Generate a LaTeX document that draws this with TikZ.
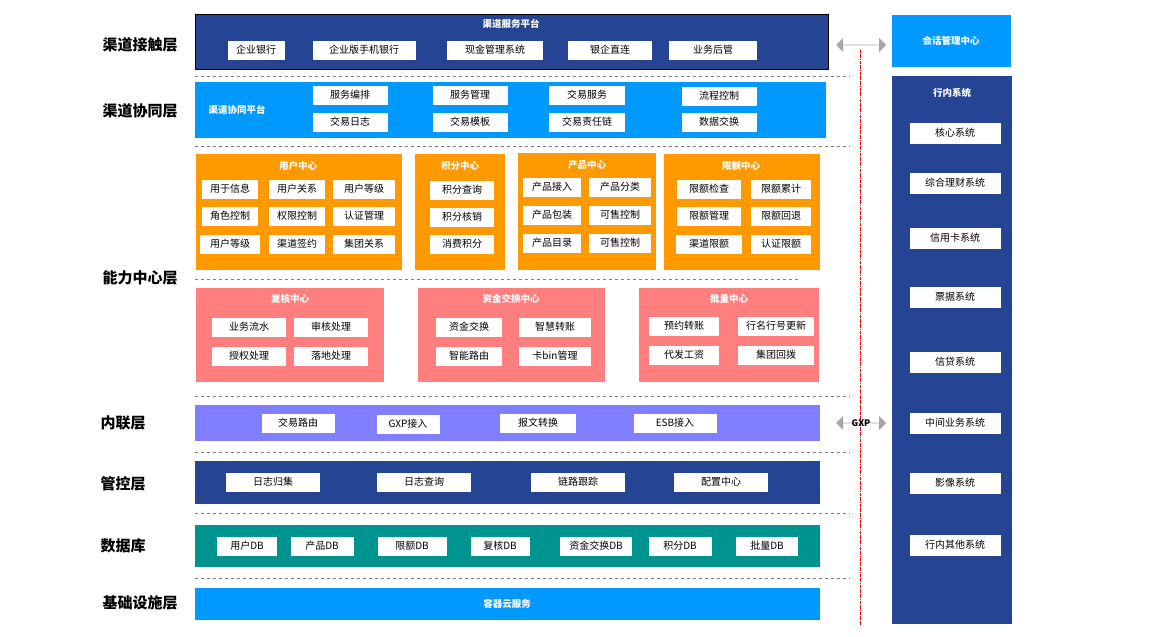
\documentclass[tikz,border=0pt]{standalone}
\usepackage{fontspec}
\setmainfont{Noto Sans CJK SC}
\usetikzlibrary{shapes.arrows}
\definecolor{dblue}{HTML}{264494}
\definecolor{lblue}{HTML}{0099FF}
\definecolor{orng}{HTML}{FF9900}
\definecolor{pink}{HTML}{FF7F7F}
\definecolor{viol}{HTML}{7F7FFF}
\definecolor{teal2}{HTML}{009490}
\tikzset{
 wb/.style={fill=white,draw=none,inner sep=0,minimum height=19pt,font=\fontsize{10}{11}\selectfont},
 ttl/.style={text=white,font=\fontsize{9.5}{10}\selectfont\bfseries,inner sep=0},
 lay/.style={font=\fontsize{15}{16}\selectfont\bfseries,inner sep=0},
 sep/.style={draw=gray,dashed,line width=0.8pt},
 dbl/.style={double arrow,fill=gray!70,draw=none,minimum height=50pt,minimum width=14pt,double arrow head extend=5pt,inner sep=0pt}
}
\newcommand\bx[4]{\node[wb,minimum width=#3pt] (#1) at (#2) {#4};}
\begin{document}
\begin{tikzpicture}[x=1pt,y=-1pt]
\useasboundingbox (0,0) rectangle (1159,637);
% layer labels
\node[lay] (L1) at (140,45) {渠道接触层};
\node[lay] (L2) at (140,111) {渠道协同层};
\node[lay] (L3) at (140,278) {能力中心层};
\node[lay] (L4) at (123,423) {内联层};
\node[lay] (L5) at (123,484) {管控层};
\node[lay] (L6) at (123,546) {数据库};
\node[lay] (L7) at (140,603) {基础设施层};
% separators
\foreach \y/\a/\b in {76/195/850,146/195/850,279/195/800,396/195/850,452/195/850,513/195/850,578/195/850}
  \draw[sep] (\a,\y) -- (\b,\y);
% red line
\draw[red,densely dashdotted,line width=0.6pt] (860,50) -- (860,625);
% channel touch
\fill[dblue,draw=black,line width=0.8pt] (195,14) rectangle (828,69);
\node[ttl] (t1) at (511,24) {渠道服务平台};
\bx{a1}{256,50}{57}{企业银行}
\bx{a2}{364,50}{103}{企业版手机银行}
\bx{a3}{495,50}{96}{现金管理系统}
\bx{a4}{610,50}{84}{银企直连}
\bx{a5}{713,50}{88}{业务后管}
% collab
\fill[lblue] (195,82) rectangle (826,138);
\node[ttl] (t2) at (237,110) {渠道协同平台};
\bx{b1}{350,95}{75}{服务编排}
\bx{b2}{470,95}{75}{服务管理}
\bx{b3}{587,95}{76}{交易服务}
\bx{b4}{719,96}{75}{流程控制}
\bx{b5}{350,122}{75}{交易日志}
\bx{b6}{470,122}{75}{交易模板}
\bx{b7}{587,122}{76}{交易责任链}
\bx{b8}{719,122}{75}{数据交换}
% orange centers
\fill[orng] (196,154) rectangle (402,270);
\fill[orng] (415,154) rectangle (505,270);
\fill[orng] (518,153) rectangle (656,270);
\fill[orng] (664,154) rectangle (820,270);
\node[ttl] (t3) at (298,166) {用户中心};
\node[ttl] (t4) at (460,166) {积分中心};
\node[ttl] (t5) at (587,165) {产品中心};
\node[ttl] (t6) at (741,166) {限额中心};
\bx{c1}{230,189}{56}{用于信息}
\bx{c2}{297,189}{56}{用户关系}
\bx{c3}{364,189}{62}{用户等级}
\bx{c4}{230,216}{56}{角色控制}
\bx{c5}{297,216}{56}{权限控制}
\bx{c6}{364,216}{62}{认证管理}
\bx{c7}{230,244}{60}{用户等级}
\bx{c8}{297,244}{56}{渠道签约}
\bx{c9}{364,244}{62}{集团关系}
\bx{d1}{462,190}{64}{积分查询}
\bx{d2}{462,217}{64}{积分核销}
\bx{d3}{462,244}{64}{消费积分}
\bx{e1}{552,187}{58}{产品接入}
\bx{e2}{620,187}{62}{产品分类}
\bx{e3}{552,215}{58}{产品包装}
\bx{e4}{620,215}{62}{可售控制}
\bx{e5}{552,243}{58}{产品目录}
\bx{e6}{620,243}{62}{可售控制}
\bx{f1}{709,189}{64}{限额检查}
\bx{f2}{781,189}{60}{限额累计}
\bx{f3}{709,216}{64}{限额管理}
\bx{f4}{781,216}{60}{限额回退}
\bx{f5}{709,244}{66}{渠道限额}
\bx{f6}{781,244}{60}{认证限额}
% pink centers
\fill[pink] (196,288) rectangle (384,382);
\fill[pink] (418,288) rectangle (605,382);
\fill[pink] (639,288) rectangle (819,382);
\node[ttl] (t7) at (290,299) {复核中心};
\node[ttl] (t8) at (511,299) {资金交换中心};
\node[ttl] (t9) at (729,299) {批量中心};
\bx{g1}{249,327}{74}{业务流水}
\bx{g2}{331,327}{74}{审核处理}
\bx{g3}{249,356}{74}{授权处理}
\bx{g4}{331,356}{74}{落地处理}
\bx{h1}{469,327}{66}{资金交换}
\bx{h2}{555,327}{72}{智慧转账}
\bx{h3}{469,356}{66}{智能路由}
\bx{h4}{555,356}{72}{卡bin管理}
\bx{i1}{684,326}{70}{预约转账}
\bx{i2}{776,326}{76}{行名行号更新}
\bx{i3}{684,355}{70}{代发工资}
\bx{i4}{776,355}{76}{集团回拨}
% inner link
\fill[viol] (195,405) rectangle (820,441);
\bx{j1}{298,423}{73}{交易路由}
\bx{j2}{408,424}{63}{GXP接入}
\bx{j3}{538,423}{76}{报文转换}
\bx{j4}{675,423}{83}{ESB接入}
% control
\fill[dblue] (195,461) rectangle (820,504);
\bx{k1}{273,482}{94}{日志归集}
\bx{k2}{424,482}{94}{日志查询}
\bx{k3}{578,482}{94}{链路跟踪}
\bx{k4}{721,482}{94}{配置中心}
% database
\fill[teal2] (195,525) rectangle (820,567);
\bx{m1}{247,546}{60}{用户DB}
\bx{m2}{322,546}{63}{产品DB}
\bx{m3}{412,546}{69}{限额DB}
\bx{m4}{500,546}{59}{复核DB}
\bx{m5}{596,546}{72}{资金交换DB}
\bx{m6}{680,546}{63}{积分DB}
\bx{m7}{767,546}{62}{批量DB}
% infra
\fill[lblue] (195,588) rectangle (820,620);
\node[ttl] (t10) at (507,604) {容器云服务};
% right side
\fill[lblue] (892,15) rectangle (1011,67);
\node[ttl] (t11) at (951,41) {会话管理中心};
\fill[dblue] (892,76) rectangle (1012,624);
\node[ttl] (t12) at (952,93) {行内系统};
\foreach \n/\y/\t in {r1/133/核心系统,r2/183/综合理财系统,r3/238/信用卡系统,r4/297/票据系统,r5/362/信贷系统,r6/423/中间业务系统,r7/483/影像系统,r8/545/行内其他系统}
  \node[wb,minimum width=91pt,minimum height=21pt] (\n) at (955,\y) {\t};
% arrows
\node[dbl] (ar1) at (861,45) {};
\node[dbl] (ar2) at (861,423) {};
\node[font=\fontsize{9}{10}\selectfont\bfseries,inner sep=0] (gxp) at (861,423) {GXP};
\end{tikzpicture}
\end{document}
